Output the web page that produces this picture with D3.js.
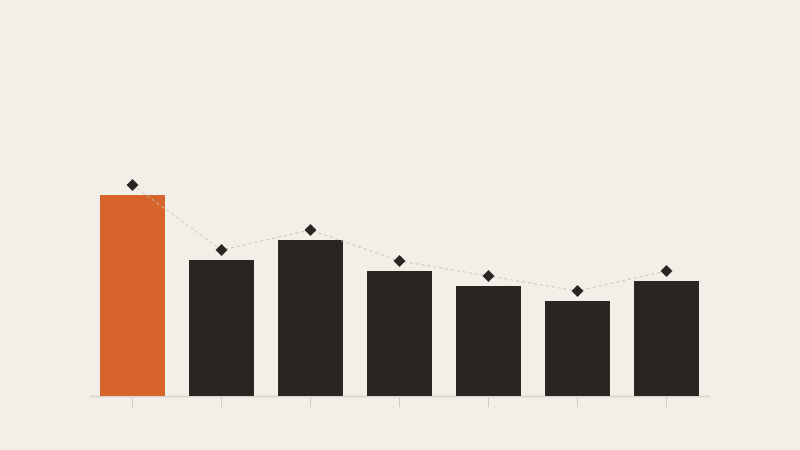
<!DOCTYPE html>
<html>
<head>
<meta charset="utf-8">
<script src="https://cdn.jsdelivr.net/npm/d3@7"></script>
<style>
  html, body { margin: 0; padding: 0; background: #f2eee8; }
  svg { display: block; }
</style>
</head>
<body>
<svg id="chart" width="800" height="450"></svg>
<script>
const categories = ["A", "B", "C", "D", "E", "F", "G"];
const barValues = [40.2, 27.2, 31.2, 25, 22, 19, 23];
const markerValues = [42.2, 29.2, 33.2, 27, 24, 21, 25];
const highlightIndex = 0;

const W = 800, H = 450;
const svg = d3.select("#chart");
svg.append("rect").attr("width", W).attr("height", H).attr("fill", "#f2eee8");

const x = d3.scaleBand().domain(categories).range([88, 711])
  .paddingInner(0.27).paddingOuter(0.135);
const y = d3.scaleLinear().domain([0, 70]).range([396, 46]);

// axis
const axis = d3.axisBottom(x).tickSizeOuter(0).tickSizeInner(11).tickFormat("");
const gx = svg.append("g").attr("transform", "translate(0,396)").call(axis);
gx.select(".domain").remove();
gx.selectAll(".tick line").attr("stroke", "#cfc9c1").attr("stroke-width", 1);
svg.append("line").attr("x1", 90).attr("x2", 710).attr("y1", 396.5).attr("y2", 396.5)
  .attr("stroke", "#dcd7cf").attr("stroke-width", 2);

// bars
svg.append("g").selectAll("rect").data(categories).join("rect")
  .attr("x", d => x(d))
  .attr("width", x.bandwidth())
  .attr("y", (d, i) => y(barValues[i]))
  .attr("height", (d, i) => y(0) - y(barValues[i]))
  .attr("fill", (d, i) => i === highlightIndex ? "#d6642b" : "#2a2520");

// dashed line
const line = d3.line()
  .x((d, i) => x(categories[i]) + x.bandwidth() / 2)
  .y(d => y(d));
svg.append("path").datum(markerValues)
  .attr("d", line)
  .attr("fill", "none")
  .attr("stroke", "#c9c3ba")
  .attr("stroke-width", 1)
  .attr("stroke-dasharray", "3,3");

// diamonds
const sym = d3.symbol().type(d3.symbolSquare).size(72);
svg.append("g").selectAll("path").data(markerValues).join("path")
  .attr("d", sym)
  .attr("transform", (d, i) => `translate(${x(categories[i]) + x.bandwidth() / 2},${y(d)}) rotate(45)`)
  .attr("fill", "#2a2520");
</script>
</body>
</html>
